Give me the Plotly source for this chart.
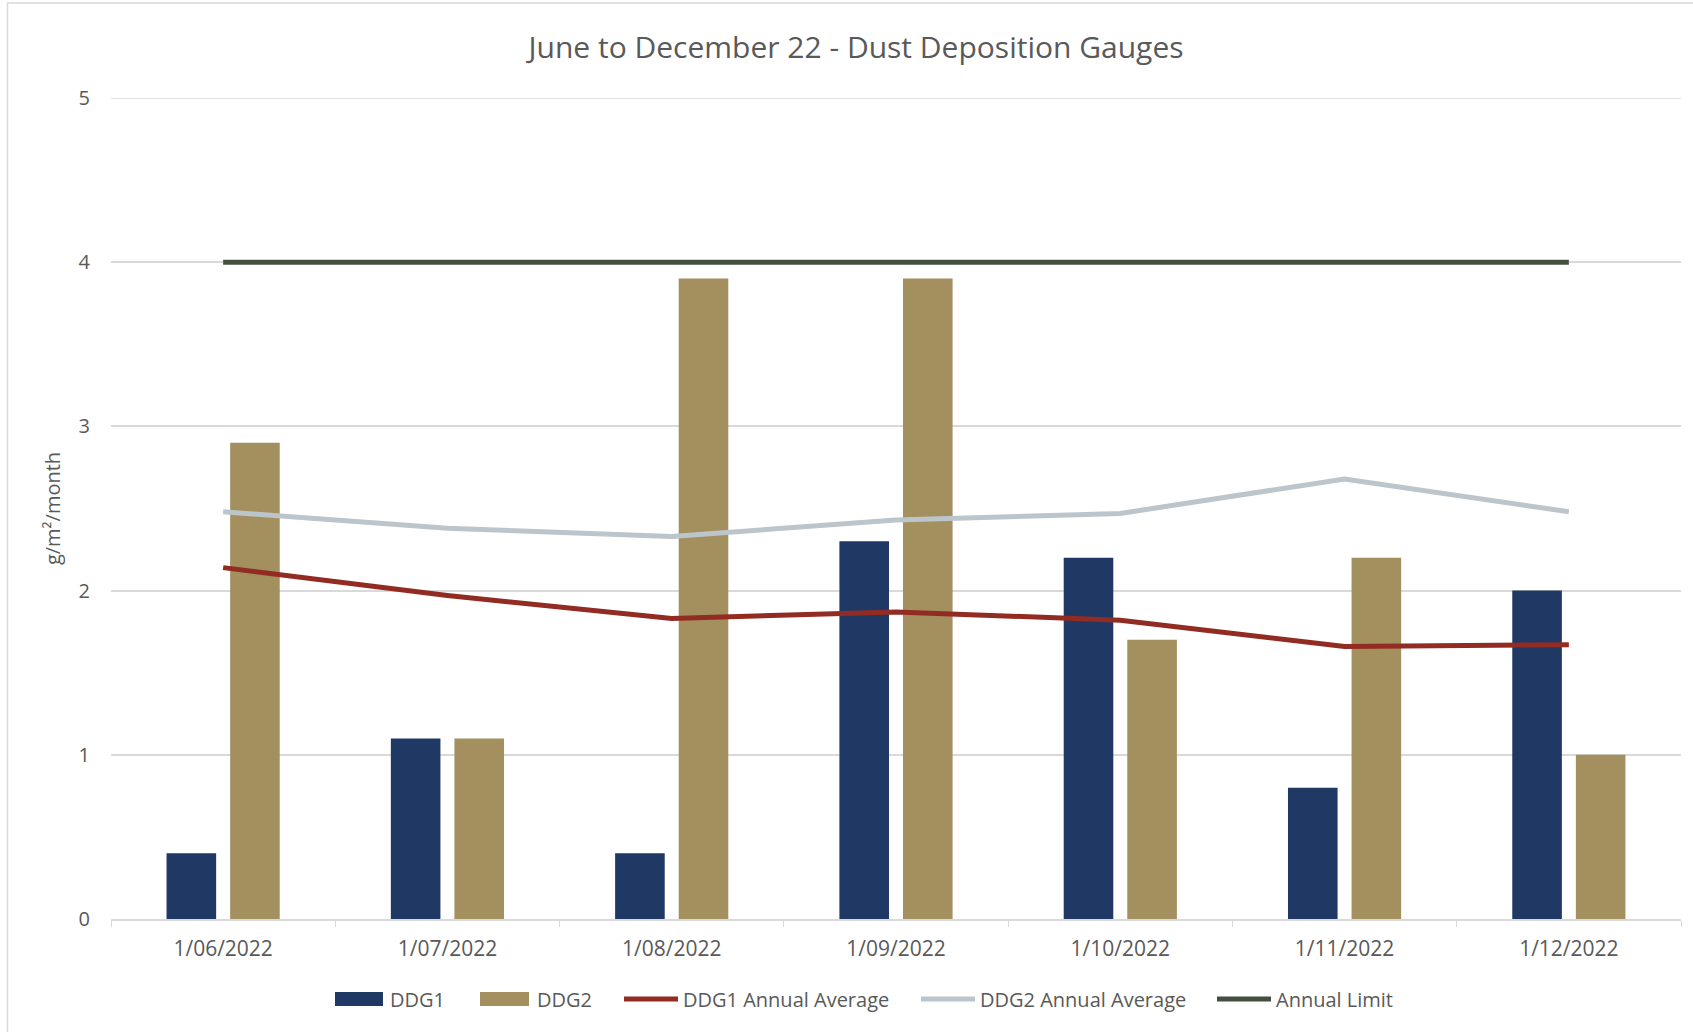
import plotly.graph_objects as go

categories = ["1/06/2022", "1/07/2022", "1/08/2022", "1/09/2022", "1/10/2022", "1/11/2022", "1/12/2022"]
ddg1 = [0.4, 1.1, 0.4, 2.3, 2.2, 0.8, 2.0]
ddg2 = [2.9, 1.1, 3.9, 3.9, 1.7, 2.2, 1.0]
ddg1_avg = [2.14, 1.97, 1.83, 1.87, 1.82, 1.66, 1.67]
ddg2_avg = [2.48, 2.38, 2.33, 2.43, 2.47, 2.68, 2.48]
annual_limit = [4, 4, 4, 4, 4, 4, 4]
y_ticks = [0, 1, 2, 3, 4, 5]

FONT = "Open Sans"
TXT = "#595959"
GRID = "#d9d9d9"
C_DDG1, C_DDG2 = "#1f3864", "#a48f5f"
C_AVG1, C_AVG2, C_LIM = "#922b21", "#bcc5cb", "#434f3f"

fig = go.Figure()
fig.add_trace(go.Bar(x=categories, y=ddg1, name="DDG1", marker=dict(color=C_DDG1, line=dict(width=0))))
fig.add_trace(go.Bar(x=categories, y=ddg2, name="DDG2", marker=dict(color=C_DDG2, line=dict(width=0))))
fig.add_trace(go.Scatter(x=categories, y=ddg1_avg, name="DDG1 Annual Average", mode="lines",
                         line=dict(color=C_AVG1, width=5)))
fig.add_trace(go.Scatter(x=categories, y=ddg2_avg, name="DDG2 Annual Average", mode="lines",
                         line=dict(color=C_AVG2, width=5)))
fig.add_trace(go.Scatter(x=categories, y=annual_limit, name="Annual Limit", mode="lines",
                         line=dict(color=C_LIM, width=5)))

W, H = 1693, 1032
L, R, T, B = 111, 12, 98, 113
pw, ph = W - L - R, H - T - B

def px(x):
    return (x - L) / pw

def py(y):
    return (H - B - y) / ph

# custom legend (Excel-style wide swatches)
legend_items = [
    ("DDG1", C_DDG1, "bar", 335, 383, 388),
    ("DDG2", C_DDG2, "bar", 480, 529, 535),
    ("DDG1 Annual Average", C_AVG1, "line", 624, 678, 681),
    ("DDG2 Annual Average", C_AVG2, "line", 921, 975, 978),
    ("Annual Limit", C_LIM, "line", 1217, 1271, 1274),
]
LEG_Y = 999
shapes = [dict(type="rect", xref="paper", yref="paper", x0=px(7.5), x1=px(1720),
               y0=py(1060), y1=py(3), line=dict(color=GRID, width=1.5),
               fillcolor="rgba(0,0,0,0)", layer="below"),
          # top gridline (at the range edge)
          dict(type="line", xref="paper", yref="y", x0=0, x1=1, y0=max(y_ticks), y1=max(y_ticks),
               line=dict(color=GRID, width=1.5), layer="below")]
annotations = []
for name, col, kind, x0, x1, xt in legend_items:
    if kind == "bar":
        shapes.append(dict(type="rect", xref="paper", yref="paper", x0=px(x0), x1=px(x1),
                           y0=py(LEG_Y + 7), y1=py(LEG_Y - 7), fillcolor=col, line=dict(width=0)))
    else:
        shapes.append(dict(type="line", xref="paper", yref="paper", x0=px(x0), x1=px(x1),
                           y0=py(LEG_Y), y1=py(LEG_Y), line=dict(color=col, width=5)))
    annotations.append(dict(text=name, xref="paper", yref="paper", x=px(xt), y=py(LEG_Y),
                            xanchor="left", yanchor="middle", showarrow=False,
                            font=dict(size=20, color=TXT, family=FONT)))

fig.update_layout(
    width=W, height=H,
    margin=dict(l=L, r=R, t=T, b=B),
    paper_bgcolor="white", plot_bgcolor="white",
    font=dict(family=FONT, color=TXT, size=16),
    title=dict(text="June to December 22 - Dust Deposition Gauges", x=px(856), xref="paper",
               xanchor="center", y=1 - 47.5 / H, yanchor="middle",
               font=dict(size=30, color=TXT, family=FONT)),
    barmode="group", bargap=0.433, bargroupgap=0.22,
    showlegend=False,
    xaxis=dict(type="category", showgrid=False, showline=True, linecolor=GRID, linewidth=1.5,
               ticks="outside", tickson="boundaries", tickcolor=GRID, ticklen=6,
               ticklabelstandoff=10,
               tickfont=dict(size=21, color=TXT, family=FONT)),
    yaxis=dict(range=[0, 5], tickvals=y_ticks, showgrid=True, gridcolor=GRID,
               gridwidth=1.5, zeroline=False, showline=False, ticks="", ticklabelstandoff=20,
               tickfont=dict(size=20, color=TXT, family=FONT),
               title=dict(text="g/m²/month", font=dict(size=20, color=TXT, family=FONT), standoff=12)),
    shapes=shapes,
    annotations=annotations,
)

fig.write_html("out.html", config={"displayModeBar": False},
               post_script="document.body.style.margin='0';")
